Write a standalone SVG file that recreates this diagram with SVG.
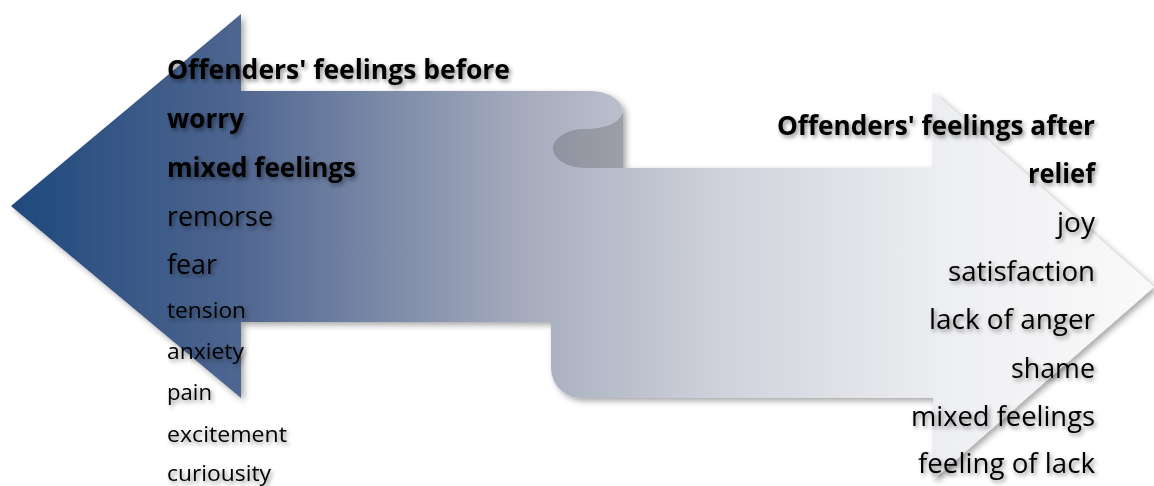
<svg xmlns="http://www.w3.org/2000/svg" width="1154" height="486" viewBox="0 0 1154 486">
  <defs>
    <linearGradient id="g" gradientUnits="userSpaceOnUse" x1="11" y1="0" x2="1154" y2="0">
      <stop offset="0" stop-color="#1f497d"/>
      <stop offset="0.2" stop-color="#4f6690"/>
      <stop offset="0.45" stop-color="#a6acbd"/>
      <stop offset="0.62" stop-color="#cfd2db"/>
      <stop offset="0.82" stop-color="#eeeff2"/>
      <stop offset="1" stop-color="#fafafa"/>
    </linearGradient>
    <linearGradient id="fold" gradientUnits="userSpaceOnUse" x1="551" y1="0" x2="623" y2="0">
      <stop offset="0" stop-color="#8f939f"/>
      <stop offset="1" stop-color="#9c9fa9"/>
    </linearGradient>
    <filter id="sh" x="-5%" y="-5%" width="110%" height="115%">
      <feDropShadow dx="3" dy="3" stdDeviation="3" flood-color="#000" flood-opacity="0.35"/>
    </filter>
    <filter id="tsh" x="-10%" y="-30%" width="120%" height="160%">
      <feDropShadow dx="2" dy="2.5" stdDeviation="2" flood-color="#000" flood-opacity="0.45"/>
    </filter>
  </defs>
  <style>
    text { font-family: "Open Sans", "Liberation Sans", sans-serif; fill: #000; }
    .b { font-weight: bold; font-size: 26px; }
    .n { font-size: 27px; }
    .s { font-size: 22px; }
    .r { text-anchor: end; }
  </style>
  <g id="arrows" filter="url(#sh)">
    <path d="M11,206 L241,14 L241,91 L591,91 A32,22 0 0 1 623,113 L623,168 L933,168 L933,92 L1154,287 L933,480 L933,398 L581,398 A30,30 0 0 1 551,368 L551,322 L241,322 L241,398 Z" fill="url(#g)"/>
    <path d="M623,113 C618,124 604,129 585,129 A32,19.5 0 0 0 585,168 L623,168 Z" fill="url(#fold)"/>
  </g>
  <g id="before" filter="url(#tsh)">
    <text class="b" x="167" y="79" textLength="343" lengthAdjust="spacingAndGlyphs">Offenders' feelings before</text>
    <text class="b" x="167" y="128" textLength="77" lengthAdjust="spacingAndGlyphs">worry</text>
    <text class="b" x="167" y="177" textLength="189" lengthAdjust="spacingAndGlyphs">mixed feelings</text>
    <text class="n" x="167" y="226" textLength="106" lengthAdjust="spacingAndGlyphs">remorse</text>
    <text class="n" x="167" y="274" textLength="50" lengthAdjust="spacingAndGlyphs">fear</text>
    <text class="s" x="167" y="318" textLength="79" lengthAdjust="spacingAndGlyphs">tension</text>
    <text class="s" x="167" y="359" textLength="77" lengthAdjust="spacingAndGlyphs">anxiety</text>
    <text class="s" x="167" y="400" textLength="45" lengthAdjust="spacingAndGlyphs">pain</text>
    <text class="s" x="167" y="442" textLength="120" lengthAdjust="spacingAndGlyphs">excitement</text>
    <text class="s" x="167" y="481" textLength="104" lengthAdjust="spacingAndGlyphs">curiousity</text>
  </g>
  <g id="after" filter="url(#tsh)">
    <text class="b r" x="1095" y="135" textLength="318" lengthAdjust="spacingAndGlyphs">Offenders' feelings after</text>
    <text class="b r" x="1095" y="183" textLength="67" lengthAdjust="spacingAndGlyphs">relief</text>
    <text class="n r" x="1095" y="232" textLength="38" lengthAdjust="spacingAndGlyphs">joy</text>
    <text class="n r" x="1095" y="281" textLength="147" lengthAdjust="spacingAndGlyphs">satisfaction</text>
    <text class="n r" x="1095" y="329" textLength="166" lengthAdjust="spacingAndGlyphs">lack of anger</text>
    <text class="n r" x="1095" y="378" textLength="84" lengthAdjust="spacingAndGlyphs">shame</text>
    <text class="n r" x="1095" y="426" textLength="184" lengthAdjust="spacingAndGlyphs">mixed feelings</text>
    <text class="n r" x="1095" y="473" textLength="177" lengthAdjust="spacingAndGlyphs">feeling of lack</text>
  </g>
</svg>
